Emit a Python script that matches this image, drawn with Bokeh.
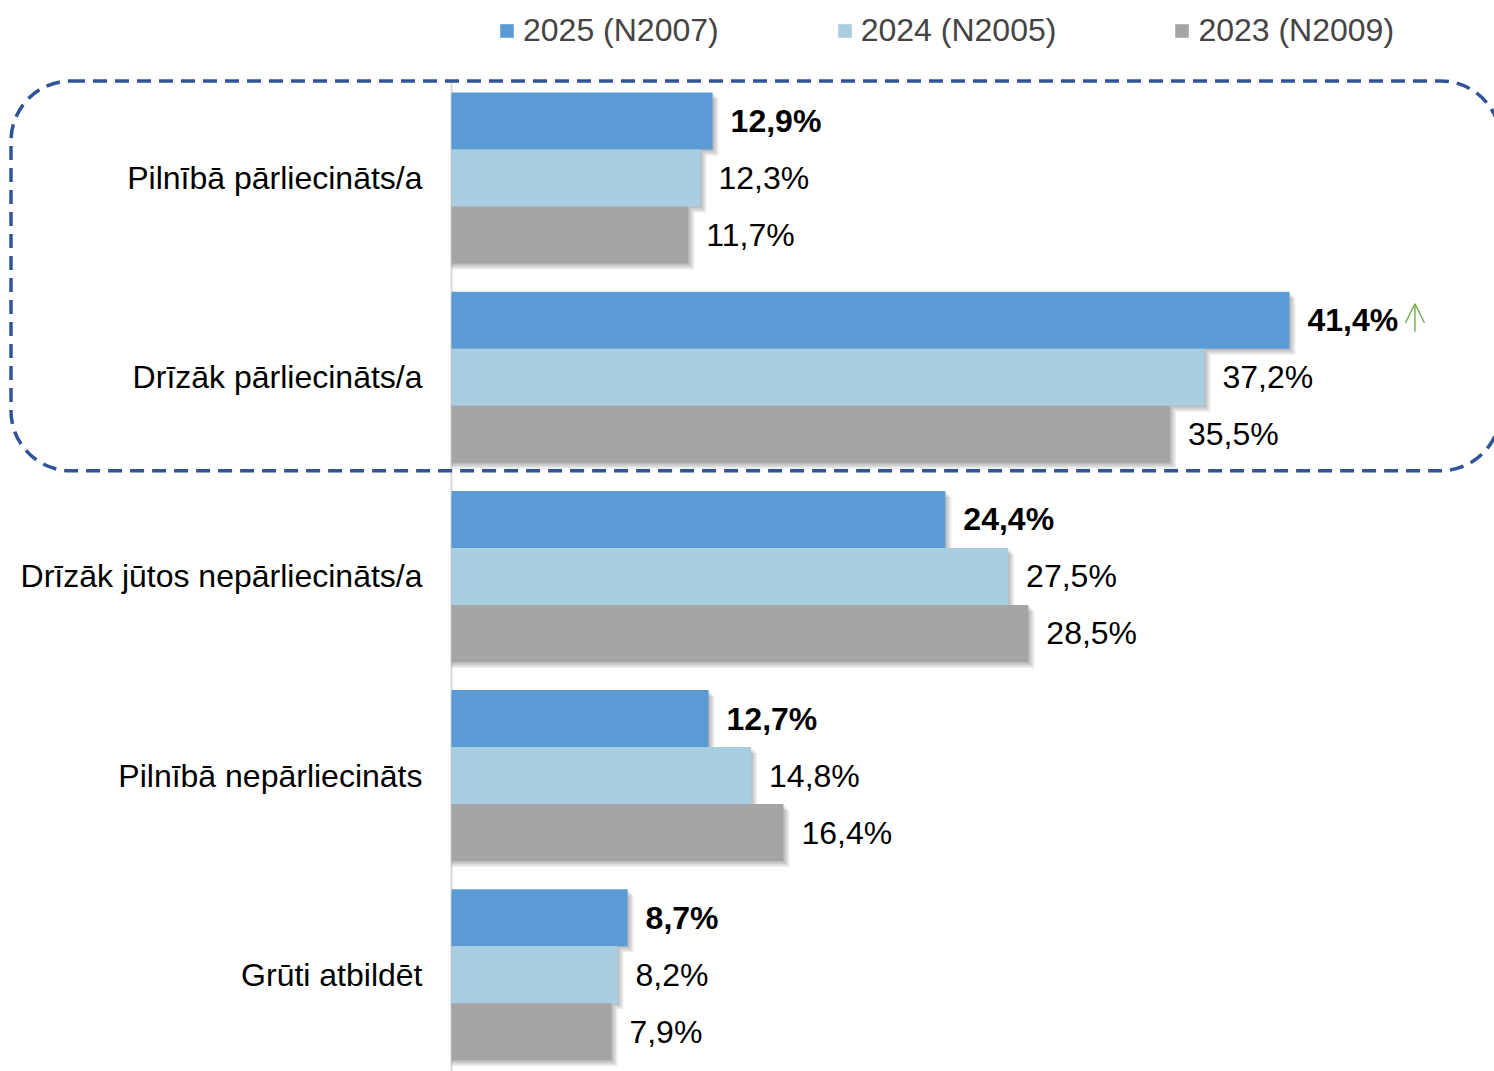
from bokeh.plotting import figure
from bokeh.models import ColumnDataSource, Range1d, BoxAnnotation, Legend, LegendItem, Arrow, OpenHead
from bokeh.transform import dodge
from bokeh.core.properties import value
from bokeh.embed import file_html
from bokeh.resources import INLINE

# ---------------- data ----------------
categories = [
    "Pilnībā pārliecināts/a",
    "Drīzāk pārliecināts/a",
    "Drīzāk jūtos nepārliecināts/a",
    "Pilnībā nepārliecināts",
    "Grūti atbildēt",
]
series_names = ["2025 (N2007)", "2024 (N2005)", "2023 (N2009)"]
values_2025 = [12.9, 41.4, 24.4, 12.7, 8.7]
values_2024 = [12.3, 37.2, 27.5, 14.8, 8.2]
values_2023 = [11.7, 35.5, 28.5, 16.4, 7.9]
rise_2025 = [False, True, False, False, False]   # green "up" marker next to the label
highlighted = ["Pilnībā pārliecināts/a", "Drīzāk pārliecināts/a"]

colors = ["#5B9BD5", "#A9CDE1", "#A5A5A5"]
FONT = "Liberation Sans"

# ---------------- layout (pixels) ----------------
W, H = 1494, 1071
AXIS_X = 451            # canvas x of the value axis baseline
PX_PER_PCT = 20.24
CAT_PX = 199.2
FIRST_C = 177.5         # canvas y of first category centre
BAR_PX = 57

x_start = (0 - AXIS_X) / PX_PER_PCT
x_end = (W - AXIS_X) / PX_PER_PCT
y_top = (0 - FIRST_C) / CAT_PX
y_bottom = (H - FIRST_C) / CAT_PX
bar_h = BAR_PX / CAT_PX


def fmt(v):
    return f"{v:.1f}".replace(".", ",") + "%"


n = len(categories)
src = ColumnDataSource(dict(
    pos=list(range(n)),
    cat=categories,
    zero=[0] * n,
    v0=values_2025, v1=values_2024, v2=values_2023,
    t0=[fmt(v) for v in values_2025],
    t1=[fmt(v) for v in values_2024],
    t2=[fmt(v) for v in values_2023],
))

p = figure(width=W, height=H, x_range=Range1d(x_start, x_end), y_range=Range1d(y_bottom, y_top),
           output_backend="svg", toolbar_location=None, min_border=0,
           min_border_left=0, min_border_right=0, min_border_top=0, min_border_bottom=0)
p.outline_line_color = None
p.xgrid.visible = False
p.ygrid.visible = False
p.xaxis.visible = False
p.yaxis.visible = False
p.background_fill_color = "white"
p.border_fill_color = "white"

offsets = [-bar_h, 0.0, bar_h]

# value-axis baseline
top_edge = (80 - FIRST_C) / CAT_PX
p.segment(x0=0, y0=top_edge, x1=0, y1=y_bottom, line_color="#D9D9D9", line_width=2)

# soft shadows
for k in range(3):
    for j in [1.5, 3.0, 4.5, 6.0]:
        p.hbar(y=dodge("pos", offsets[k] + j / CAT_PX), left=0,
               right=dodge(f"v{k}", j / PX_PER_PCT), height=bar_h,
               source=src, fill_color="black", fill_alpha=0.07, line_color=None)

bars = []
for k in range(3):
    r = p.hbar(y=dodge("pos", offsets[k]), left=0, right=f"v{k}", height=bar_h,
               source=src, fill_color=colors[k], line_color=None)
    bars.append(r)

# value labels
for k in range(3):
    p.text(x=f"v{k}", y=dodge("pos", offsets[k]), text=f"t{k}", source=src,
           x_offset=18, text_align="left", text_baseline="middle",
           text_font=value(FONT), text_font_size="32px",
           text_font_style="bold" if k == 0 else "normal", text_color="black")

# green "increase" arrow after the highlighted 2025 label
for i, flag in enumerate(rise_2025):
    if flag:
        ax_ = values_2025[i] + 125.5 / PX_PER_PCT
        yc = i + offsets[0]
        p.add_layout(Arrow(x_start=ax_, y_start=yc + 11.5 / CAT_PX,
                           x_end=ax_, y_end=yc - 16.5 / CAT_PX,
                           line_color="#70AD47", line_width=1.4,
                           end=OpenHead(size=19, line_color="#70AD47", line_width=1.4)))

# category labels
p.text(x="zero", y="pos", text="cat", source=src, x_offset=-29,
       text_align="right", text_baseline="middle",
       text_font=value(FONT), text_font_size="32px", text_color="black")

# dashed highlight around the first two categories
i0 = categories.index(highlighted[0])
i1 = categories.index(highlighted[-1])
box = BoxAnnotation(left=(10.5 - AXIS_X) / PX_PER_PCT, right=(1500 - AXIS_X) / PX_PER_PCT,
                    top=i0 - 0.5 + 2.5 / CAT_PX, bottom=i1 + 0.5 - 6 / CAT_PX,
                    fill_alpha=0, fill_color=None, line_color="#2F5597", line_alpha=1.0,
                    line_width=3.5, line_dash="14 8", border_radius=60)
p.add_layout(box)

legend = Legend(items=[LegendItem(label=series_names[k], renderers=[bars[k]]) for k in range(3)],
                orientation="horizontal", location=(498, 1022),
                glyph_width=17, glyph_height=17, label_standoff=8, spacing=117,
                padding=0, margin=0, border_line_color=None, background_fill_alpha=0,
                label_text_font=FONT, label_text_font_size="32px", label_height=38)
p.add_layout(legend)

open("out.html", "w").write(file_html(p, INLINE))
